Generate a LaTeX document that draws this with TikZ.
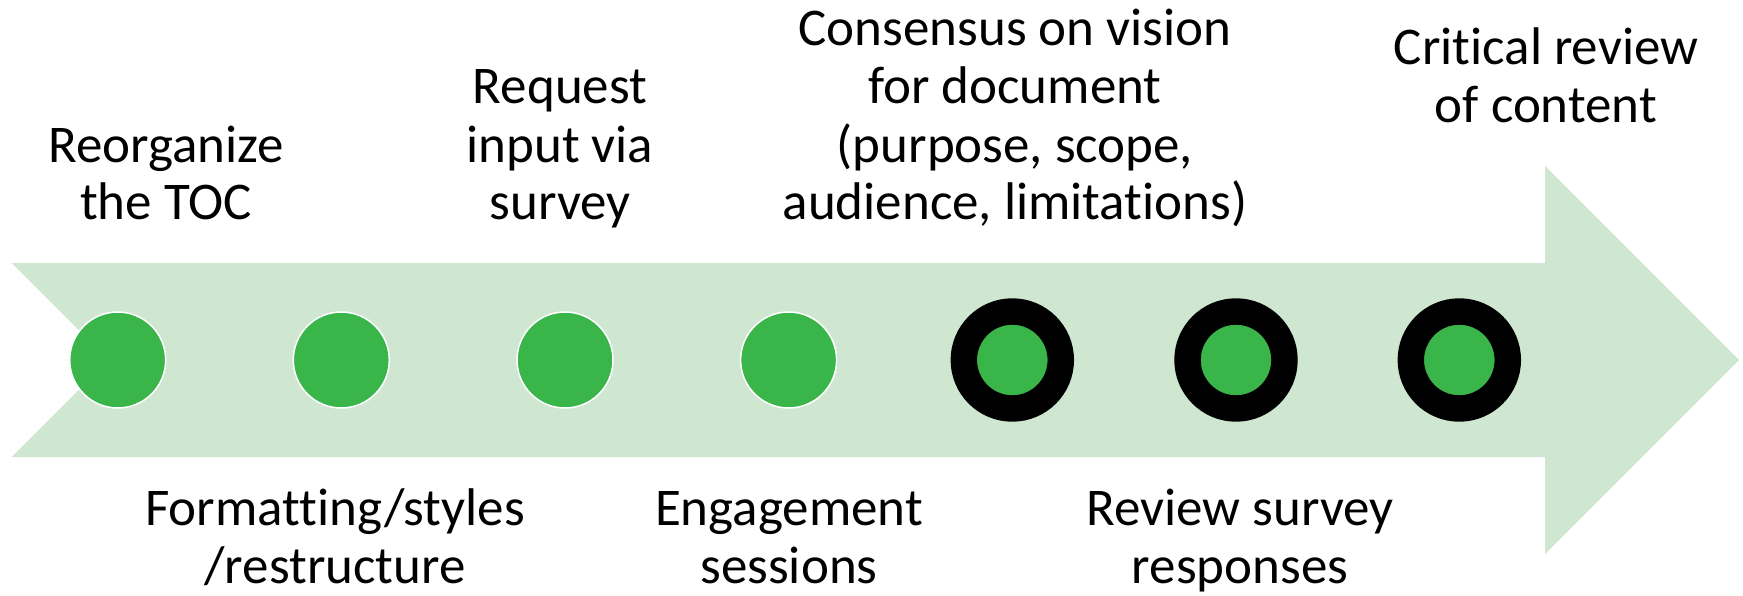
\documentclass[tikz,border=0pt]{standalone}
\usepackage{fontspec}
\setmainfont{Carlito}[Ligatures=NoCommon]
\usepackage{xcolor}
\usepackage{tikz}
\usetikzlibrary{positioning}

\definecolor{bandgreen}{RGB}{207,231,209}
\definecolor{dotgreen}{RGB}{57,181,74}

\begin{document}
\begin{tikzpicture}[x=1pt,y=-1pt,
  done/.style={circle, fill=dotgreen, draw=white, line width=1.5pt, minimum size=96pt, inner sep=0pt},
  todo/.style={circle, fill=dotgreen, draw=black, line width=26.4pt, minimum size=97pt, inner sep=0pt},
  steptext/.style={align=center, anchor=base, inner sep=0pt, font=\fontsize{53}{58}\selectfont}]
\useasboundingbox (0,0) rectangle (1743,596);

% Timeline arrow
\fill[bandgreen] (11.7,263) -- (1545,263) -- (1545,166) -- (1739,360) -- (1545,554)
  -- (1545,457) -- (11.7,457) -- (108.7,360) -- cycle;

% Milestones
\node[done] (m1) at (117.7,360) {};
\node[done] (m2) at (341.3,360) {};
\node[done] (m3) at (565,360) {};
\node[done] (m4) at (788.6,360) {};
\node[todo] (m5) at (1012.3,360) {};
\node[todo] (m6) at (1236,360) {};
\node[todo] (m7) at (1459.3,360) {};

% Labels above (placed at baseline of last line)
\node[steptext] (t1) at (166,220) {Reorganize\\the TOC};
\node[steptext] (t3) at (560,220) {Request\\input via\\survey};
\node[steptext] (t5) at (1015,220) {Consensus on vision\\for document\\(purpose, scope,\\audience, limitations)};
\node[steptext] (t7) at (1546,123) {Critical review\\of content};

% Labels below
\node[steptext] (t2) at (335,583) {Formatting/styles\\/restructure};
\node[steptext] (t4) at (789,583) {Engagement\\sessions};
\node[steptext] (t6) at (1240,583) {Review survey\\responses};

\end{tikzpicture}
\end{document}
